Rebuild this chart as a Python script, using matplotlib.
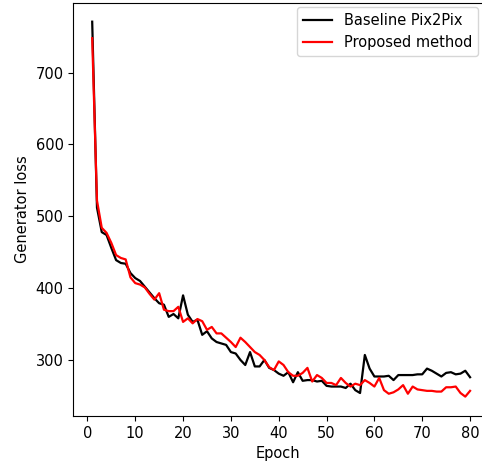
import numpy as np
import matplotlib
matplotlib.use("Agg")
import matplotlib.pyplot as plt

epochs = np.arange(1, 81)

# Pérdida del generador, Pix2Pix de base
baseline_loss = [
    771, 512, 478, 474, 456, 439, 435, 434, 421, 414,
    410, 402, 394, 386, 379, 377, 360, 364, 358, 390,
    363, 353, 356, 335, 340, 330, 325, 323, 321, 311,
    309, 300, 293, 311, 291, 291, 300, 289, 286, 281,
    278, 283, 269, 283, 271, 272, 272, 270, 271, 264,
    263, 263, 263, 261, 267, 258, 254, 307, 288, 277,
    277, 277, 278, 272, 279, 279, 279, 279, 280, 280,
    288, 285, 281, 277, 282, 283, 280, 281, 285, 276,
]

# Pérdida del generador, método propuesto
proposed_loss = [
    748, 522, 484, 477, 463, 446, 442, 440, 415, 407,
    405, 401, 392, 384, 393, 370, 368, 368, 374, 353,
    358, 351, 357, 354, 342, 346, 337, 337, 331, 325,
    318, 331, 325, 318, 311, 307, 300, 290, 286, 298,
    293, 283, 278, 278, 282, 289, 270, 279, 275, 268,
    268, 265, 275, 268, 263, 267, 265, 272, 268, 263,
    275, 258, 253, 255, 259, 265, 253, 263, 259, 258,
    257, 257, 256, 256, 262, 262, 263, 254, 249, 257,
]

plt.rcParams["font.size"] = 10.5

fig = plt.figure(figsize=(4.82, 4.63), dpi=100)
ax = fig.add_axes([73.3 / 482, 47 / 463, (482.5 - 73.3) / 482, 413 / 463])

ax.plot(epochs, baseline_loss, color="black", linewidth=1.6, label="Baseline Pix2Pix")
ax.plot(epochs, proposed_loss, color="red", linewidth=1.6, label="Proposed method")

ax.set_xlim(-2.95, 82.6)
ax.set_ylim(222, 797)
ax.set_xticks(np.arange(0, 81, 10))
ax.set_yticks([300, 400, 500, 600, 700])
ax.set_xlabel("Epoch")
ax.set_ylabel("Generator loss")
ax.legend(loc="upper right", borderaxespad=0.3)

fig.savefig("out.png", dpi=100)
